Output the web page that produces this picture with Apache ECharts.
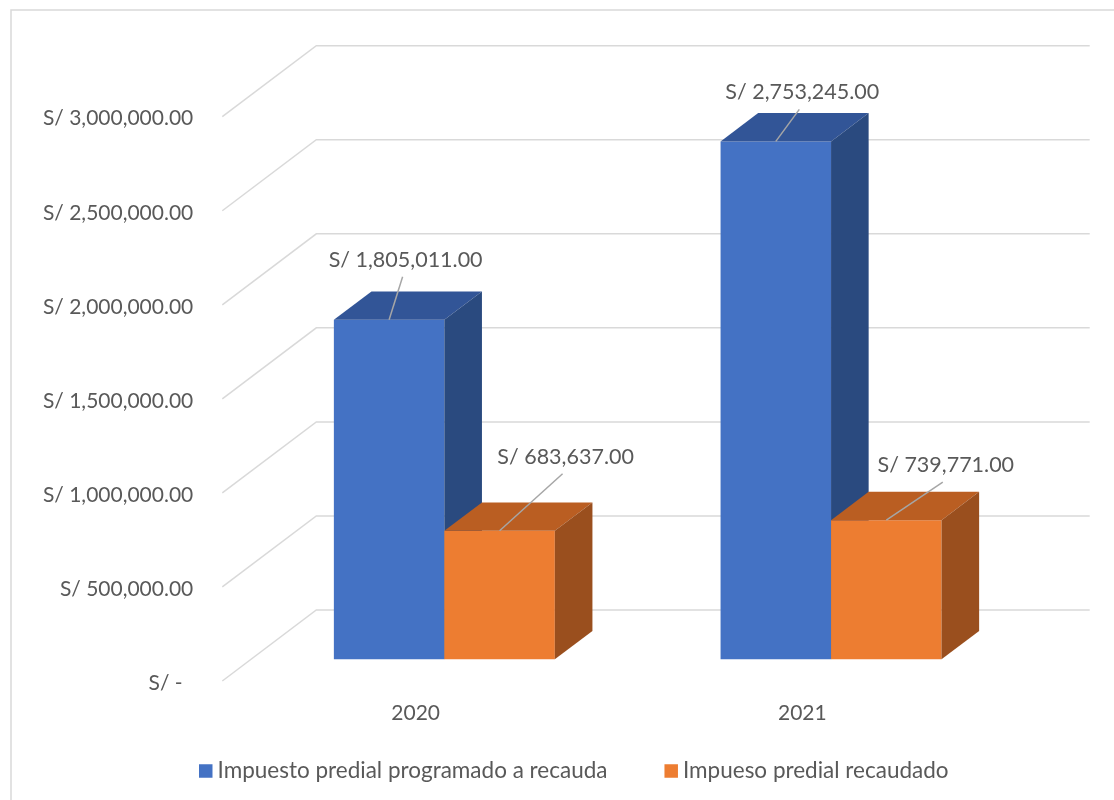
<!DOCTYPE html>
<html>
<head>
<meta charset="utf-8">
<script src="https://cdn.jsdelivr.net/npm/echarts@6/dist/echarts.min.js"></script>
<style>
  html, body { margin: 0; padding: 0; background: #fff; }
  #chart { width: 1114px; height: 800px; }
</style>
</head>
<body>
<div id="chart"></div>
<script>
var years = ["2020", "2021"];
var programado = [1805011, 2753245];
var recaudado = [683637, 739771];
var seriesNames = ["Impuesto predial programado a recauda", "Impueso predial recaudado"];
var yTicks = [0, 500000, 1000000, 1500000, 2000000, 2500000, 3000000];
var yTickLabels = ["S/ -  ", "S/ 500,000.00", "S/ 1,000,000.00", "S/ 1,500,000.00",
  "S/ 2,000,000.00", "S/ 2,500,000.00", "S/ 3,000,000.00"];

// where each data label sits, relative to the top front edge of its bar
var labelOffsets = [
  [[16.5, -60], [26.5, -49]],
  [[66, -74], [59.5, -55]]
];

var FONT = "Lato";
var TEXT = "#595959";
var GRID = "#D9D9D9";
// perspective offsets (px) from the plane of the bar fronts
var BACK_DX = 65.3, BACK_DY = 49.3;
var FRONT_DX = 28.7, FRONT_DY = 21.7;
var DEPTH_DX = 37.6, DEPTH_DY = 28.3;
var BAR_FRAC = 0.2857;

var faces = [
  { front: "#4472C4", top: "#325597", side: "#2A4A7F" },
  { front: "#ED7D31", top: "#BA5E22", side: "#9A4F1E" }
];

function money(v) {
  var parts = v.toFixed(2).split(".");
  return "S/ " + parts[0].replace(/\B(?=(\d{3})+$)/g, ",") + "." + parts[1];
}

function renderWall(params, api) {
  var cs = params.coordSys;
  var y = api.coord([0, api.value(1)])[1];
  var left = cs.x, right = cs.x + cs.width;
  return {
    type: "group",
    children: [
      {
        type: "polyline",
        shape: { points: [[left - FRONT_DX, y + FRONT_DY], [left + BACK_DX, y - BACK_DY], [right + BACK_DX, y - BACK_DY]] },
        style: { stroke: GRID, lineWidth: 1.5, fill: null }
      },
      {
        type: "text",
        x: left - FRONT_DX - 29,
        y: y + FRONT_DY + 2,
        style: { text: yTickLabels[params.dataIndex], fill: TEXT, fontSize: 21, fontFamily: FONT, align: "right", verticalAlign: "middle" }
      }
    ]
  };
}

function renderCategory(params, api) {
  var p = api.coord([api.value(0), 0]);
  return {
    type: "text",
    x: p[0] - FRONT_DX,
    y: p[1] + FRONT_DY + 32,
    style: { text: years[params.dataIndex], fill: TEXT, fontSize: 21, fontFamily: FONT, align: "center", verticalAlign: "middle" }
  };
}

function makeBarRenderer(s) {
  return function (params, api) {
    var idx = api.value(0), val = api.value(1);
    var base = api.coord([idx, 0]);
    var top = api.coord([idx, val])[1];
    var barW = api.size([1, 0])[0] * BAR_FRAC;
    var x0 = s === 0 ? base[0] - barW : base[0];
    var x1 = x0 + barW, y0 = base[1];
    var c = faces[s];
    var off = labelOffsets[s][params.dataIndex];
    var xc = x0 + barW / 2;
    var lx = xc + off[0], ly = top + off[1];
    return {
      type: "group",
      children: [
        { type: "rect", shape: { x: x0, y: top, width: barW, height: y0 - top }, style: { fill: c.front } },
        { type: "polygon", shape: { points: [[x0, top], [x0 + DEPTH_DX, top - DEPTH_DY], [x1 + DEPTH_DX, top - DEPTH_DY], [x1, top]] }, style: { fill: c.top } },
        { type: "polygon", shape: { points: [[x1, top], [x1 + DEPTH_DX, top - DEPTH_DY], [x1 + DEPTH_DX, y0 - DEPTH_DY], [x1, y0]] }, style: { fill: c.side } },
        { type: "line", shape: { x1: xc, y1: top, x2: lx - 3, y2: ly + 17 }, style: { stroke: "#A6A6A6", lineWidth: 1.5 } },
        { type: "text", x: lx, y: ly, style: { text: money(val), fill: TEXT, fontSize: 21.5, fontFamily: FONT, align: "center", verticalAlign: "middle" } }
      ]
    };
  };
}

var chart = echarts.init(document.getElementById("chart"));
chart.setOption({
  backgroundColor: "#fff",
  animation: false,
  color: ["#4472C4", "#ED7D31"],
  graphic: [{
    type: "rect",
    shape: { x: 11, y: 10, width: 1130, height: 820 },
    style: { fill: null, stroke: GRID, lineWidth: 1.5 },
    silent: true
  }],
  grid: { left: 251, right: 89.6, top: 95, bottom: 140.7 },
  xAxis: { type: "category", data: years, show: false },
  yAxis: { type: "value", min: 0, max: 3000000, interval: 500000, show: false },
  legend: {
    left: 199,
    top: 759,
    padding: 0,
    icon: "rect",
    itemWidth: 13.5,
    itemHeight: 13.5,
    itemGap: 57,
    data: seriesNames,
    textStyle: { color: TEXT, fontSize: 22.5, fontFamily: FONT, lineHeight: 24 }
  },
  series: [
    {
      type: "custom",
      name: "walls",
      clip: false,
      silent: true,
      z: 1,
      renderItem: renderWall,
      data: yTicks.map(function (v) { return [0, v]; })
    },
    {
      type: "custom",
      name: "categories",
      clip: false,
      silent: true,
      z: 1,
      renderItem: renderCategory,
      data: years.map(function (y, i) { return [i, 0]; })
    },
    {
      type: "custom",
      name: seriesNames[0],
      clip: false,
      z: 2,
      itemStyle: { color: "#4472C4" },
      renderItem: makeBarRenderer(0),
      data: programado.map(function (v, i) { return [i, v]; })
    },
    {
      type: "custom",
      name: seriesNames[1],
      clip: false,
      z: 3,
      itemStyle: { color: "#ED7D31" },
      renderItem: makeBarRenderer(1),
      data: recaudado.map(function (v, i) { return [i, v]; })
    }
  ]
});
window.addEventListener("resize", function () { chart.resize(); });
</script>
</body>
</html>
